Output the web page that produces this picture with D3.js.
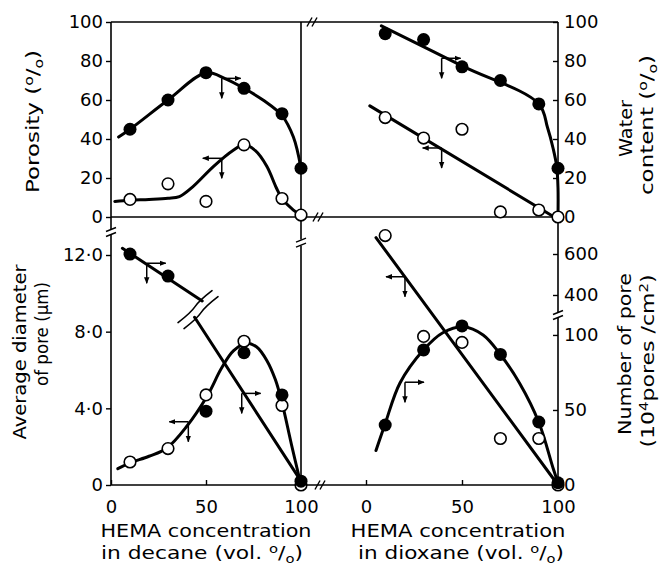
<!DOCTYPE html>
<html><head><meta charset="utf-8">
<script src="https://cdn.jsdelivr.net/npm/d3@7"></script>
<style>body{margin:0;background:#fff} svg{display:block}</style>
</head><body>
<svg id="chart" width="662" height="566"></svg>
<script>
// ---------------- data ----------------
const hema = [10, 30, 50, 70, 90, 100];

// top-left: HEMA in decane (porosity / water content, %)
const decaneWater    = [45, 60, 74, 66, 53, 25];     // filled circles
const decanePorosity = [9, 17, 8, 37, 9.5, 1];       // open circles
const decaneWaterCurve = [[4,41],[10,45],[30,60],[50,74],[60,71],[70,66],[80,60],[90,52],[96,41],[100,25]];
const decanePorosityCurve = [[2,8],[10,8.6],[20,9],[30,9.6],[36,10.5],[43,15.5],[54,26],[64,34],[70,37],[76,34],[82,26],[87,15],[90,9.5],[96,3.5],[100,1]];

// top-right: HEMA in dioxane
const dioxaneWater    = [94, 91, 77, 70, 58, 25];
const dioxanePorosity = [51, 40.5, 45, 2.6, 3.6, 0];
const dioxaneWaterCurve = [[8,98],[50,77.5],[90,58],[94.5,46],[97.5,35],[99.3,26],[100,15],[100,0]];
const dioxanePorosityLine = [[2,57],[98,0]];

// bottom-left: average pore diameter (um), decane
const decaneDiaFilled = [12.05, 10.9, 3.85, 6.9, 4.7, 0.2];
const decaneDiaOpen   = [1.2, 1.9, 4.7, 7.5, 4.15, 0];
const decaneFilledLineA = [[6,12.35],[48,9.6]];
const decaneFilledLineB = [[44,8.75],[100,0.2]];
const decaneOpenCurve = [[3.6,0.85],[10,1.15],[20,1.5],[29.3,1.92],[39.8,3.05],[50.4,4.6],[58.2,6.1],[64.4,7.0],[71.4,7.4],[76.7,7.2],[82,6.5],[86.5,5.5],[90,4.3],[95,2.1],[100,0]];

// bottom-right: number of pores (10^4 pores/cm2), dioxane
const dioxaneNumFilled = [40, 90, 106, 87, 42, 1.5];
const dioxaneNumOpen   = [690, 99, 95, 31, 31, 0];
const dioxaneNumFilledCurve = [[5.2,23],[9.9,40.5],[17.7,68],[29.9,90],[40,101.5],[50.7,105.5],[61,100],[69.8,87.3],[80,67.8],[90,41.8],[97.5,11],[100,1.5]];
const dioxaneNumOpenLine = [[5.2,680],[100,0]];

// ticks
const porosityTicks = [0, 20, 40, 60, 80, 100];
const diameterTicks = [0, 4, 8, 12];
const diameterTickLabels = ["0", "4·0", "8·0", "12·0"];
const numberTicks = [0, 50, 100, 400, 600];
const hemaTicks = [0, 50, 100];

// direction arrows (origin on curve, horizontal direction)
const arrowsTL = [{x:58.3, y:71.1, dir:1}, {x:58.3, y:30.1, dir:-1}];
const arrowsTR = [{x:39.4, y:81.4, dir:1}, {x:39.4, y:35.4, dir:-1}];
const arrowsBL = [{x:18.8, y:11.57, dir:1}, {x:68.8, y:4.78, dir:1}, {x:40.7, y:3.3, dir:-1}];
const arrowsBR = [{x:20.3, y:489, dir:-1}, {x:20.3, y:68.5, dir:1}];

// ---------------- drawing ----------------
const FONT = "'DejaVu Sans', sans-serif";
const svg = d3.select("#chart");

const xL = d3.scaleLinear().domain([0, 100]).range([111, 301]);
const xR = d3.scaleLinear().domain([0, 100]).range([366, 558]);
const yTop = d3.scaleLinear().domain([0, 100]).range([217, 22]);
const yDia = d3.scaleLinear().domain([0, 12]).range([485, 255]);
// broken axis: 0-113 linear below the break, 302-600 linear above it
const yNum = d3.scaleLinear().domain([0, 113.3, 302.4, 600]).range([485, 315, 315, 254]);

const fLeft = xL(0), fMid = xL(100), fRight = xR(100);
const fTop = yTop(100), fMidY = yTop(0), fBottom = yDia(0);

const defs = svg.append("defs");
defs.append("marker").attr("id", "ah").attr("viewBox", "0 0 10 10")
  .attr("refX", 9).attr("refY", 5).attr("markerWidth", 4.5).attr("markerHeight", 4.5)
  .attr("orient", "auto").attr("markerUnits", "strokeWidth")
  .append("path").attr("d", "M0,1 L10,5 L0,9 Z").attr("fill", "#000");

// frame
const frame = svg.append("g").attr("stroke", "#000").attr("stroke-width", 1.6).attr("fill", "none");
frame.append("line").attr("x1", fLeft).attr("x2", fRight).attr("y1", fTop).attr("y2", fTop);
frame.append("line").attr("x1", fLeft).attr("x2", fRight).attr("y1", fMidY).attr("y2", fMidY);
frame.append("line").attr("x1", fLeft).attr("x2", fRight).attr("y1", fBottom).attr("y2", fBottom);
frame.append("line").attr("x1", fLeft).attr("x2", fLeft).attr("y1", fTop).attr("y2", fBottom);
frame.append("line").attr("x1", fMid).attr("x2", fMid).attr("y1", fTop).attr("y2", fBottom);
frame.append("line").attr("x1", fRight).attr("x2", fRight).attr("y1", fTop).attr("y2", fBottom);

// break marks on frame
function hBreak(x, y) {
  [-2.5, 2.5].forEach(d => {
    frame.append("line").attr("x1", x + d - 2.5).attr("y1", y + 4.5).attr("x2", x + d + 2.5).attr("y2", y - 4.5)
      .attr("stroke-width", 1.4);
  });
}
function vBreak(x, y) {
  frame.append("rect").attr("x", x - 3).attr("y", y - 3).attr("width", 6).attr("height", 6).attr("fill", "#fff").attr("stroke", "none");
  [-2.5, 2.5].forEach(d => {
    frame.append("line").attr("x1", x - 5).attr("y1", y + d + 2).attr("x2", x + 5).attr("y2", y + d - 2)
      .attr("stroke-width", 1.4);
  });
}
hBreak(fMid + 11, fTop);
hBreak(fMid + 17, fMidY);
hBreak(fMid + 19, fBottom);
vBreak(fLeft, yDia(13.2));
vBreak(fMid, yDia(12.65));
vBreak(fRight, yNum(200));

// axes
function styleAxis(g) {
  g.select(".domain").remove();
  g.selectAll(".tick line").attr("stroke", "#000").attr("stroke-width", 1.4);
  g.selectAll("text").attr("font-family", FONT).attr("font-size", 18).attr("fill", "#000");
}
svg.append("g").attr("transform", `translate(${fLeft},0)`)
  .call(d3.axisLeft(yTop).tickValues(porosityTicks).tickSize(5).tickPadding(3)).call(styleAxis);
svg.append("g").attr("transform", `translate(${fRight},0)`)
  .call(d3.axisRight(yTop).tickValues(porosityTicks).tickSize(-5).tickPadding(6)).call(styleAxis);
svg.append("g").attr("transform", `translate(${fLeft},0)`)
  .call(d3.axisLeft(yDia).tickValues(diameterTicks).tickFormat((d, i) => diameterTickLabels[i]).tickSize(5).tickPadding(3)).call(styleAxis);
svg.append("g").attr("transform", `translate(${fRight},0)`)
  .call(d3.axisRight(yNum).tickValues(numberTicks).tickSize(-5).tickPadding(6)).call(styleAxis);
[xL, xR].forEach(sc => {
  svg.append("g").attr("transform", `translate(0,${fBottom})`)
    .call(d3.axisBottom(sc).tickValues(hemaTicks).tickSize(-5)).call(styleAxis)
    .call(g => g.selectAll("text").attr("y", 22).attr("dy", "0.35em"));
});

// curves
const plot = svg.append("g").attr("fill", "none").attr("stroke", "#000").attr("stroke-width", 3)
  .attr("stroke-linecap", "round").attr("stroke-linejoin", "round");
function drawLine(data, sx, sy, curve) {
  plot.append("path").datum(data)
    .attr("d", d3.line().x(d => sx(d[0])).y(d => sy(d[1])).curve(curve || d3.curveLinear));
}
const smooth = d3.curveCatmullRom.alpha(0.5);
drawLine(decaneWaterCurve, xL, yTop, smooth);
drawLine(decanePorosityCurve, xL, yTop, smooth);
drawLine(dioxaneWaterCurve, xR, yTop, smooth);
drawLine(dioxanePorosityLine, xR, yTop);
drawLine(decaneFilledLineA, xL, yDia);
drawLine(decaneFilledLineB, xL, yDia);
drawLine(decaneOpenCurve, xL, yDia, smooth);
drawLine(dioxaneNumFilledCurve, xR, yNum, smooth);
drawLine(dioxaneNumOpenLine, xR, yNum);

// data break (//) across the filled diameter line
const bx = xL(45.8), by = yDia(9.15);
[-3, 3].forEach(d => {
  plot.append("path")
    .attr("d", `M${bx + d - 17},${by + d + 16} Q${bx + d - 4},${by + d + 6} ${bx + d},${by + d} T${bx + d + 17},${by + d - 16}`)
    .attr("stroke-width", 1.6);
});

// arrows
const arr = svg.append("g").attr("stroke", "#000").attr("stroke-width", 1.5).attr("fill", "none");
function drawArrows(list, sx, sy) {
  list.forEach(a => {
    const x = sx(a.x), y = sy(a.y);
    arr.append("line").attr("x1", x).attr("y1", y).attr("x2", x + a.dir * 19).attr("y2", y).attr("marker-end", "url(#ah)");
    arr.append("line").attr("x1", x).attr("y1", y).attr("x2", x).attr("y2", y + 20).attr("marker-end", "url(#ah)");
  });
}
drawArrows(arrowsTL, xL, yTop);
drawArrows(arrowsTR, xR, yTop);
drawArrows(arrowsBL, xL, yDia);
drawArrows(arrowsBR, xR, yNum);

// points
const pts = svg.append("g");
function drawPoints(vals, sx, sy, filled) {
  pts.selectAll(null).data(vals).enter().append("circle")
    .attr("cx", (d, i) => sx(hema[i])).attr("cy", d => sy(d))
    .attr("r", filled ? 6.5 : 5.8)
    .attr("fill", filled ? "#000" : "#fff").attr("stroke", "#000").attr("stroke-width", filled ? 0 : 1.6);
}
drawPoints(decanePorosity, xL, yTop, false);
drawPoints(decaneWater, xL, yTop, true);
drawPoints(dioxanePorosity, xR, yTop, false);
drawPoints(dioxaneWater, xR, yTop, true);
drawPoints(decaneDiaOpen, xL, yDia, false);
drawPoints(decaneDiaFilled, xL, yDia, true);
drawPoints(dioxaneNumOpen, xR, yNum, false);
drawPoints(dioxaneNumFilled, xR, yNum, true);

// labels
const labels = svg.append("g").attr("font-family", FONT).attr("fill", "#000");
function label(x, y, rot, parts, size, len) {
  const t = labels.append("text").attr("transform", `translate(${x},${y}) rotate(${rot})`)
    .attr("text-anchor", "middle").attr("font-size", size).attr("y", size * 0.36);
  if (len) t.attr("textLength", len).attr("lengthAdjust", "spacingAndGlyphs");
  let cur = 0;
  parts.forEach(p => {
    const txt = typeof p === "string" ? p : p[0];
    const kind = typeof p === "string" ? 0 : p[1];
    const target = kind === 1 ? -size * 0.38 : kind === -1 ? size * 0.2 : 0;
    const ts = t.append("tspan").text(txt).attr("dy", target - cur);
    if (kind !== 0) ts.attr("font-size", size * 0.68);
    cur = target;
  });
}
label(33, 121.5, -90, ["Porosity (", ["o", 1], "/", ["o", -1], ")"], 18, 143);
label(626, 128.5, -90, ["Water"], 18, 57);
label(647, 125, -90, ["content (", ["o", 1], "/", ["o", -1], ")"], 17, 140);
label(20, 352, -90, ["Average diameter"], 18, 175);
label(42, 334, -90, ["of pore (μm)"], 17, 104);
label(625, 354, -90, ["Number of pore"], 18, 162);
label(648, 361, -90, ["(10", ["4", 1], "pores /cm", ["2", 1], ")"], 17, 173);
label(206, 531, 0, ["HEMA concentration"], 17, 211);
label(202, 553, 0, ["in decane (vol. ", ["o", 1], "/", ["o", -1], ")"], 17, 202);
label(458, 531, 0, ["HEMA concentration"], 17, 215);
label(461, 553, 0, ["in dioxane  (vol. ", ["o", 1], "/", ["o", -1], ")"], 17, 206);
</script>
</body></html>
